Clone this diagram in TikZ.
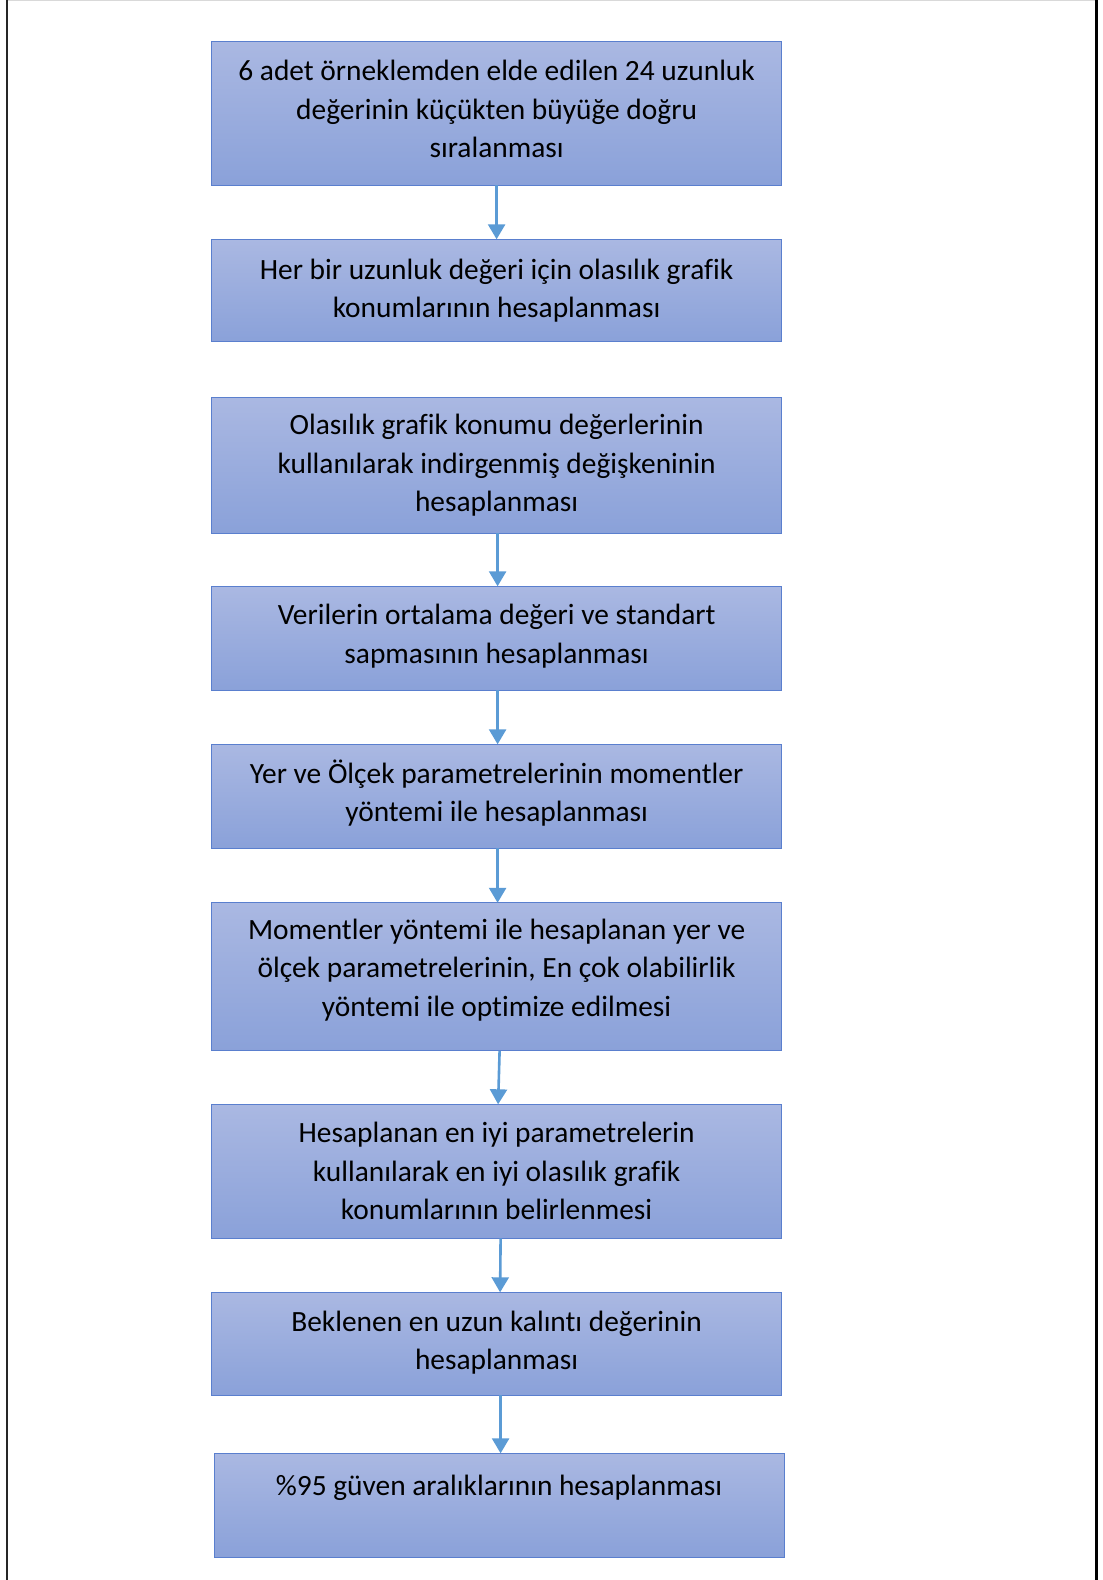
\documentclass[tikz,border=0pt]{standalone}
\usepackage{fontspec}
\setmainfont{Carlito}[Ligatures=NoCommon]
\usetikzlibrary{arrows.meta, positioning}

\definecolor{boxtop}{HTML}{AAB8E2}
\definecolor{boxbottom}{HTML}{8AA1D9}
\definecolor{boxline}{HTML}{5A7FCE}
\definecolor{arrowblue}{HTML}{5B9BD5}

\begin{document}
\begin{tikzpicture}[x=1pt, y=1pt,
    block/.style={rectangle, draw=boxline, line width=1.2pt, top color=boxtop,
                  bottom color=boxbottom, minimum width=570pt, text width=570pt,
                  align=flush center, inner sep=0pt, outer sep=0pt,
                  font=\fontsize{29.4}{38.5}\selectfont},
    lift/.style={execute at end node={\endgraf\vspace{#1}}},
    arrow/.style={-{Triangle[length=15pt, width=17pt]}, draw=arrowblue, line width=2.6pt}
]
    \useasboundingbox (0,0) rectangle (1103,-1580);

    % frame
    \draw[gray!30, line width=1.4pt] (7,-0.7) -- (1097,-0.7);
    \draw[black!85, line width=2pt] (6.5,0) -- (6.5,-1580);
    \draw[black, line width=2.5pt] (1096.7,0) -- (1096.7,-1580);

    \node[block, lift=8pt, minimum height=144pt] (sort) at (496.6,-113.3)
        {6 adet örneklemden elde edilen 24 uzunluk\\değerinin küçükten büyüğe doğru\\sıralanması};
    \node[block, minimum height=102.5pt, below=54pt of sort] (plot)
        {Her bir uzunluk değeri için olasılık grafik\\konumlarının hesaplanması};
    \node[block, minimum height=136pt, below=55.5pt of plot] (reduced)
        {Olasılık grafik konumu değerlerinin\\kullanılarak indirgenmiş değişkeninin\\hesaplanması};
    \node[block, lift=4pt, minimum height=104pt, below=53pt of reduced] (stats)
        {Verilerin ortalama değeri ve standart\\sapmasının hesaplanması};
    \node[block, lift=6pt, minimum height=104pt, below=54pt of stats] (moments)
        {Yer ve Ölçek parametrelerinin momentler\\yöntemi ile hesaplanması};
    \node[block, lift=14pt, minimum height=148pt, below=54.5pt of moments] (mle)
        {Momentler yöntemi ile hesaplanan yer ve\\ölçek parametrelerinin, En çok olabilirlik\\yöntemi ile optimize edilmesi};
    \node[block, minimum height=134pt, below=53.5pt of mle] (best)
        {Hesaplanan en iyi parametrelerin\\kullanılarak en iyi olasılık grafik\\konumlarının belirlenmesi};
    \node[block, lift=2pt, minimum height=103pt, below=54pt of best] (residual)
        {Beklenen en uzun kalıntı değerinin\\hesaplanması};
    \node[block, text height=42pt, text depth=62pt, below=58pt of residual, xshift=2.5pt] (conf)
        {\%95 güven aralıklarının hesaplanması};

    \draw[arrow] (sort) -- (plot);
    \draw[arrow] ([xshift=1pt]reduced.south) -- ([xshift=1pt]stats.north);
    \draw[arrow] ([xshift=1pt]stats.south) -- ([xshift=1pt]moments.north);
    \draw[arrow] ([xshift=1pt]moments.south) -- ([xshift=1pt]mle.north);
    \draw[arrow] ([xshift=3pt]mle.south) -- ([xshift=1.5pt]best.north);
    \draw[arrow] ([xshift=4pt]best.south) -- ([xshift=3.5pt]residual.north);
    \draw[arrow] ([xshift=4pt]residual.south) -- ([xshift=1.5pt]conf.north);
\end{tikzpicture}
\end{document}
